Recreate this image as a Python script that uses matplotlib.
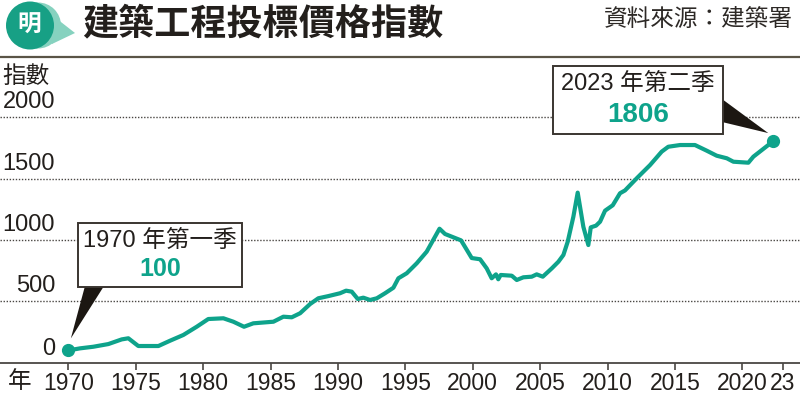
import matplotlib
matplotlib.use('Agg')
from matplotlib import pyplot as plt
from matplotlib.patches import Rectangle, Polygon, Ellipse
from matplotlib.lines import Line2D

plt.rcParams['font.family'] = ['Liberation Sans', 'Noto Sans CJK TC', 'DejaVu Sans']

# data (quarterly index, 1970 Q1 = 100)
years = [1970.0, 1970.87, 1971.85, 1972.97, 1973.96, 1974.45, 1975.19, 1976.68,
         1977.54, 1978.53, 1979.52, 1980.38, 1981.50, 1982.24, 1983.03, 1983.72,
         1985.21, 1985.95, 1986.57, 1987.19, 1987.93, 1988.54, 1989.29, 1990.15,
         1990.60, 1991.02, 1991.47, 1991.88, 1992.38, 1992.88, 1993.49, 1994.11,
         1994.48, 1995.10, 1995.84, 1996.58, 1997.53, 1997.94, 1999.13, 1999.92,
         2000.54, 2001.03, 2001.40, 2001.72, 2001.89, 2002.07, 2002.89, 2003.26,
         2003.75, 2004.37, 2004.74, 2005.19, 2005.86, 2006.35, 2006.72, 2007.04,
         2007.46, 2007.78, 2008.20, 2008.57, 2008.75, 2009.14, 2009.44, 2009.81,
         2010.38, 2010.92, 2011.29, 2012.16, 2013.15, 2014.01, 2014.50, 2015.37,
         2016.48, 2017.35, 2018.09, 2018.84, 2019.33, 2020.44, 2020.81, 2022.29]
index = [100, 117, 130, 152, 190, 199, 136, 136,
         179, 226, 293, 356, 362, 334, 293, 321,
         334, 375, 370, 403, 478, 525, 543, 566,
         587, 579, 519, 530, 511, 525, 566, 611,
         688, 729, 810, 905, 1092, 1049, 997, 853,
         843, 769, 688, 720, 680, 715, 709, 674,
         696, 701, 720, 701, 769, 823, 878, 986,
         1190, 1386, 1108, 959, 1103, 1117, 1149, 1239,
         1283, 1381, 1404, 1503, 1611, 1720, 1760, 1774,
         1774, 1728, 1687, 1666, 1638, 1630, 1679, 1806]

x_ticks = [1970, 1975, 1980, 1985, 1990, 1995, 2000, 2005, 2010, 2015, 2020, 2023]
x_labels = ['1970', '1975', '1980', '1985', '1990', '1995', '2000', '2005', '2010',
            '2015', '2020', '23']
y_ticks = [0, 500, 1000, 1500, 2000]

title = '建築工程投標價格指數'
source = '資料來源：建築署'
first_label = '1970 年第一季'
last_label = '2023 年第二季'

TEAL = '#0ea38b'
DARK = '#231f1c'
W, H = 800, 394


def fx(px):
  return px / W


def fy(py):
  return 1 - py / H


def disc(cx, cy, r, color):
  # round in pixels, even though the figure is not square
  return Ellipse((fx(cx), fy(cy)), 2 * r / W, 2 * r / H, transform=fig.transFigure,
                 color=color, lw=0)


fig = plt.figure(figsize=(W / 100, H / 100), dpi=100)
ax = fig.add_axes([0, fy(362.7), 1, (362.7 - 100) / H])
ax.set_xlim(1964.93, 2024.27)
ax.set_ylim(0, (362.7 - 100) / 0.1227)

for v in y_ticks[1:]:
  ax.axhline(v, color='#4a4743', lw=1.0, ls=(0, (1, 1.2)), zorder=1)

ax.plot(years, index, color=TEAL, lw=3.0, solid_joinstyle='round', zorder=3)
ax.plot([years[0], years[-1]], [index[0], index[-1]], 'o', color=TEAL, ms=8.5, zorder=4)

for s in ['top', 'left', 'right']:
  ax.spines[s].set_visible(False)
ax.spines['bottom'].set_color('#4a4743')
ax.spines['bottom'].set_linewidth(1.3)
ax.set_yticks([])
ax.set_xticks(x_ticks)
ax.set_xticklabels(x_labels)
ax.tick_params(axis='x', direction='out', length=5, width=1.2, color='#4a4743',
               pad=2, labelsize=16.5, labelcolor=DARK)

for v in y_ticks:
  ax.annotate(str(v), xy=(55 / W, v), xycoords=('axes fraction', 'data'),
              xytext=(0, 3 if v == 0 else 4), textcoords='offset pixels',
              ha='right', va='bottom', fontsize=17, color=DARK)

fig.text(fx(2), fy(88), '指數', fontsize=17, color=DARK, ha='left', va='bottom')
fig.text(fx(8), fy(393), '年', fontsize=17, color=DARK, ha='left', va='bottom')

# header
fig.add_artist(Line2D([0, 1], [fy(56.5), fy(56.5)], color='#5a5446', lw=1.6,
                      transform=fig.transFigure))
fig.text(fx(82), fy(24.5), title, fontsize=26, fontweight='bold', color=DARK,
         ha='left', va='center')
fig.text(fx(793), fy(20), source, fontsize=17, color='#2d2926', ha='right', va='center')

# logo
fig.add_artist(Polygon([(fx(52), fy(15)), (fx(75), fy(33)), (fx(52), fy(44))],
                       closed=True, transform=fig.transFigure, color='#86d2bf', lw=0))
fig.add_artist(disc(38, 25.5, 23, '#86d2bf'))
fig.add_artist(disc(30, 25.5, 24, '#17a085'))
fig.text(fx(29), fy(25), '明', fontsize=17, fontweight='bold', color='white',
         ha='center', va='center')

# callouts
fig.canvas.draw()


def data_px(x, y, dx, dy):
  px, py = ax.transData.transform((x, y))
  return ((px + dx) / W, (py + dy) / H)


tip1 = data_px(years[0], index[0], 2.5, 12)
fig.add_artist(Polygon([(fx(85), fy(286)), (fx(104), fy(286)), tip1], closed=True,
                       transform=fig.transFigure, color='#1c1712', lw=0, zorder=5))
tip2 = data_px(years[-1], index[-1], -5, 8)
fig.add_artist(Polygon([(fx(722), fy(99)), (fx(722), fy(122)), tip2], closed=True,
                       transform=fig.transFigure, color='#1c1712', lw=0, zorder=5))

fig.add_artist(Rectangle((fx(77.7), fy(286.7)), (242.3 - 77.7) / W, (286.7 - 223) / H,
                         transform=fig.transFigure, facecolor='white',
                         edgecolor='#3a3530', lw=1.4, zorder=6))
fig.text(fx(160), fy(241), first_label, fontsize=17, color=DARK, ha='center',
         va='center', zorder=7)
fig.text(fx(160), fy(269), str(index[0]), fontsize=18, fontweight='bold', color=TEAL,
         ha='center', va='center', zorder=7)

fig.add_artist(Rectangle((fx(552.7), fy(134)), (723 - 552.7) / W, (134 - 66) / H,
                         transform=fig.transFigure, facecolor='white',
                         edgecolor='#3a3530', lw=1.4, zorder=6))
fig.text(fx(638), fy(83.5), last_label, fontsize=17, color=DARK, ha='center',
         va='center', zorder=7)
fig.text(fx(638), fy(115), str(index[-1]), fontsize=20, fontweight='bold', color=TEAL,
         ha='center', va='center', zorder=7)

plt.savefig('out.png', dpi=100)
